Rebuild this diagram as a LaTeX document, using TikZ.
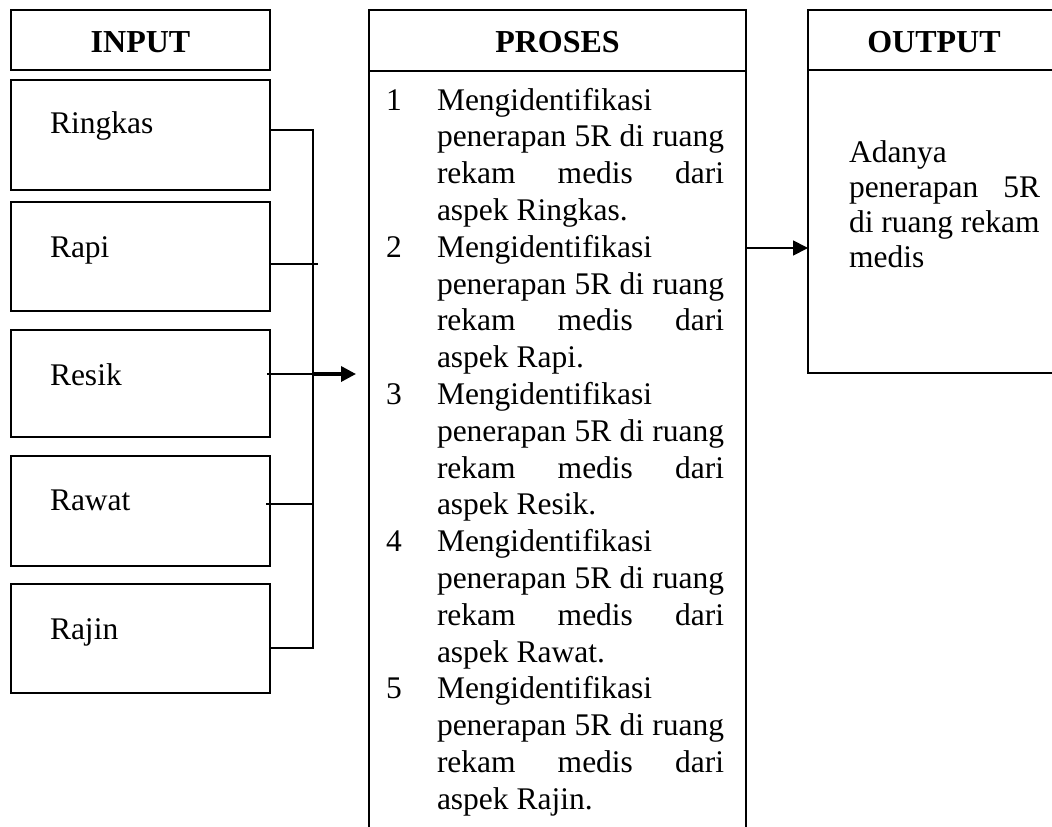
\documentclass[tikz,border=0pt]{standalone}
\usepackage{fontspec}
\setmainfont{Liberation Serif}[Ligatures=CommonOff]
\usetikzlibrary{arrows.meta,calc}
\newcommand{\jline}[2]{\makebox[#1][s]{#2}}
\tikzset{
  box/.style={draw, line width=1.8pt, rectangle, inner sep=0pt, outer sep=0pt},
  txt/.style={inner sep=0pt, outer sep=0pt, anchor=base west, font=\fontsize{31.5}{36.8}\selectfont},
  head/.style={inner sep=0pt, outer sep=0pt, anchor=base, font=\fontsize{32}{36.8}\selectfont\bfseries},
  ln/.style={line width=1.8pt},
  tip/.style={-{Triangle[length=15pt,width=15pt]}}
}
\begin{document}
\begin{tikzpicture}[x=1pt,y=-1pt]
\useasboundingbox (0,0) rectangle (1052,827);
% INPUT column
\node[box, minimum width=259pt, minimum height=60pt] (inhead) at (140.5,40) {};
\node[head] (inheadt) at (140.5,52) {INPUT};
\node[box, minimum width=259pt, minimum height=110pt] (ringkas) at (140.5,135) {};
\node[box, minimum width=259pt, minimum height=109pt] (rapi) at (140.5,256.5) {};
\node[box, minimum width=259pt, minimum height=107pt] (resik) at (140.5,383.5) {};
\node[box, minimum width=259pt, minimum height=110pt] (rawat) at (140.5,511) {};
\node[box, minimum width=259pt, minimum height=109pt] (rajin) at (140.5,638.5) {};
\node[txt] (tringkas) at (50,133) {Ringkas};
\node[txt] (trapi) at (50,257) {Rapi};
\node[txt] (tresik) at (50,385) {Resik};
\node[txt] (trawat) at (50,510) {Rawat};
\node[txt] (trajin) at (50,639) {Rajin};
% PROSES column
\node[box, minimum width=377pt, minimum height=61pt] (prohead) at (557.5,40.5) {};
\node[head] (proheadt) at (557.5,52) {PROSES};
\node[box, minimum width=377pt, minimum height=774pt] (proc) at (557.5,458) {};
\foreach \asp [count=\n] in {Ringkas,Rapi,Resik,Rawat,Rajin}{
  \pgfmathsetmacro\yy{110+147.2*(\n-1)}
  \node[txt] (num\n) at (386,\yy) {\n};
  \node[txt] (la\n) at (437,\yy) {Mengidentifikasi};
  \node[txt] (lb\n) at (437,\yy+36.8) {\jline{287pt}{penerapan 5R di ruang}};
  \node[txt] (lc\n) at (437,\yy+73.6) {\jline{287pt}{rekam medis dari}};
  \node[txt] (ld\n) at (437,\yy+110.4) {aspek \asp.};
}
% OUTPUT column
\node[box, minimum width=250pt, minimum height=60pt] (outhead) at (933,40) {};
\node[head] (outheadt) at (934,52) {OUTPUT};
\node[box, minimum width=250pt, minimum height=303pt] (outb) at (933,221.5) {};
\node[txt] (o1) at (849,162) {Adanya};
\node[txt] (o2) at (849,197) {\jline{191pt}{penerapan 5R}};
\node[txt] (o3) at (849,232) {di ruang rekam};
\node[txt] (o4) at (849,267) {medis};
% connectors
\coordinate (b1) at (313,130);
\coordinate (b5) at (313,648);
\draw[ln] (ringkas.east |- b1) -- (b1) -- (b5) -- (rajin.east |- b5);
\coordinate (c2) at (318,264);
\draw[ln] (rapi.east |- c2) -- (c2);
\coordinate (c3) at (313,374);
\draw[ln] ($(resik.east |- c3)+(-3,0)$) -- (c3);
\draw[line width=3.4pt, tip] (c3) -- ($(proc.west |- c3)+(-13,0)$);
\coordinate (c4) at (313,504);
\draw[ln] ($(rawat.east |- c4)+(-4,0)$) -- (c4);
\coordinate (oa) at (770,248);
\draw[ln, tip] (proc.east |- oa) -- (outb.west |- oa);
\end{tikzpicture}
\end{document}
